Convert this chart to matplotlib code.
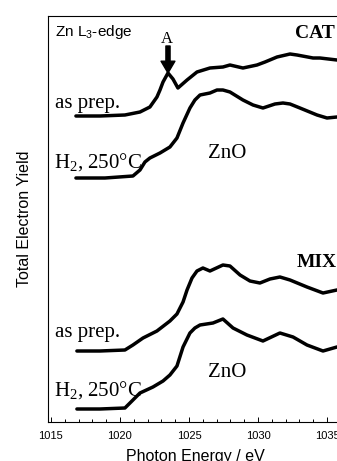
import matplotlib
matplotlib.use("Agg")
import matplotlib.pyplot as plt
from matplotlib.ticker import MultipleLocator

plt.rcParams['font.family'] = ['Liberation Sans', 'DejaVu Sans']
plt.rcParams['mathtext.default'] = 'regular'

# ---- data (photon energy in eV, total electron yield in arbitrary units) ----
cat_prep_E = [1016.81, 1018.55, 1020.36, 1021.45, 1022.17, 1022.68, 1022.90, 1023.12,
              1023.48, 1023.84, 1024.20, 1024.86, 1025.58, 1026.52, 1027.46, 1027.97,
              1028.91, 1029.93, 1030.51, 1031.38, 1032.32, 1032.83, 1033.99, 1034.49,
              1035.72, 1036.30]
cat_prep_I = [306, 306, 307, 310, 315, 325, 332, 340, 349, 343, 334, 342, 350, 354, 355, 357,
              354, 357, 360, 365, 368, 367, 364, 364, 362, 362]

cat_h2_E = [1016.81, 1018.91, 1020.94, 1021.45, 1021.81, 1022.17, 1022.90, 1023.62,
            1024.13, 1024.57, 1025.07, 1025.43, 1025.80, 1026.52, 1027.03, 1027.46,
            1027.97, 1028.91, 1029.64, 1030.36, 1031.23, 1031.81, 1032.32, 1033.04,
            1034.28, 1035.00, 1035.72, 1036.30]
cat_h2_I = [244, 244, 246, 252, 260, 264, 269, 275, 284, 299, 314, 322, 327, 329, 332, 332,
            330, 322, 317, 314, 318, 319, 318, 314, 307, 304, 305, 305]

mix_prep_E = [1016.88, 1018.55, 1020.36, 1020.94, 1021.67, 1022.68, 1023.62, 1024.13,
              1024.57, 1024.86, 1025.22, 1025.58, 1026.01, 1026.52, 1027.46, 1027.97,
              1028.70, 1029.42, 1030.14, 1030.87, 1031.59, 1032.32, 1033.55, 1034.71,
              1035.72, 1036.30]
mix_prep_I = [71, 71, 72, 77, 84, 91, 101, 108, 120, 132, 144, 151, 154, 151, 157, 156,
              147, 141, 139, 143, 145, 142, 135, 129, 132, 133]

mix_h2_E = [1016.88, 1018.55, 1020.36, 1021.45, 1022.39, 1023.12, 1023.62, 1024.13,
            1024.57, 1025.07, 1025.43, 1025.80, 1026.74, 1027.46, 1028.19, 1029.20,
            1030.36, 1031.59, 1032.54, 1033.55, 1034.71, 1035.72, 1036.30]
mix_h2_I = [13, 13, 14, 29, 35, 41, 47, 56, 75, 89, 94, 97, 99, 103, 94, 87,
            81, 89, 85, 77, 71, 75, 76]

x_ticks = [1015, 1020, 1025, 1030, 1035, 1040]

fig = plt.figure(figsize=(3.37, 4.61), dpi=100)
ax = fig.add_axes([47.5 / 337, 39 / 461, 348.5 / 337, 406 / 461])

for E, I in [(cat_prep_E, cat_prep_I), (cat_h2_E, cat_h2_I),
             (mix_prep_E, mix_prep_I), (mix_h2_E, mix_h2_I)]:
    ax.plot(E, I, color='black', lw=2.5, solid_capstyle='round', solid_joinstyle='round')

ax.set_xlim(1014.75, 1040)
ax.set_ylim(0, 406)
ax.set_xticks(x_ticks)
ax.set_xticklabels([str(t) for t in x_ticks])
ax.xaxis.set_minor_locator(MultipleLocator(1))
ax.set_yticks([])
ax.tick_params(axis='x', which='major', direction='in', length=3.6, width=0.7,
               labelsize=8, pad=6.5)
ax.tick_params(axis='x', which='minor', direction='in', length=2.0, width=0.7)
for s in ['left', 'bottom', 'top']:
    ax.spines[s].set_linewidth(0.8)
ax.spines['right'].set_visible(False)

fig.text(195 / 337, 0.0, 'Photon Energy / eV', ha='center', va='baseline', fontsize=11.5)
fig.text(25 / 337, 1 - 219 / 461, 'Total Electron Yield', ha='center', va='center',
         rotation=90, fontsize=11.5)

serif = ['Liberation Serif', 'DejaVu Serif']
ax.text(1015.29, 386, 'Zn L$_3$-edge', fontsize=11, ha='left', va='baseline')
ax.text(1023.41, 379, 'A', fontsize=12, family=serif, ha='center', va='baseline')
ax.annotate('', xy=(1023.48, 349), xytext=(1023.48, 376),
            arrowprops=dict(arrowstyle='simple,head_length=0.85,head_width=1.0,tail_width=0.3',
                            fc='black', ec='black', shrinkA=0, shrinkB=0),
            annotation_clip=False)
ax.text(1032.68, 384, 'CAT', fontsize=14, family=serif, weight='bold', ha='left', va='baseline')
ax.text(1032.83, 155, 'MIX', fontsize=14, family=serif, weight='bold', ha='left', va='baseline')

ax.text(1015.29, 314, 'as prep.', fontsize=15, family=serif, ha='left', va='baseline')
ax.text(1015.22, 254, 'H$_2$, 250°C', fontsize=15, family=serif, ha='left', va='baseline')
ax.text(1026.38, 264, 'ZnO', fontsize=15, family=serif, ha='left', va='baseline')
ax.text(1015.29, 85, 'as prep.', fontsize=15, family=serif, ha='left', va='baseline')
ax.text(1015.22, 26, 'H$_2$, 250°C', fontsize=15, family=serif, ha='left', va='baseline')
ax.text(1026.38, 45, 'ZnO', fontsize=15, family=serif, ha='left', va='baseline')

fig.savefig('out.png', dpi=100)
